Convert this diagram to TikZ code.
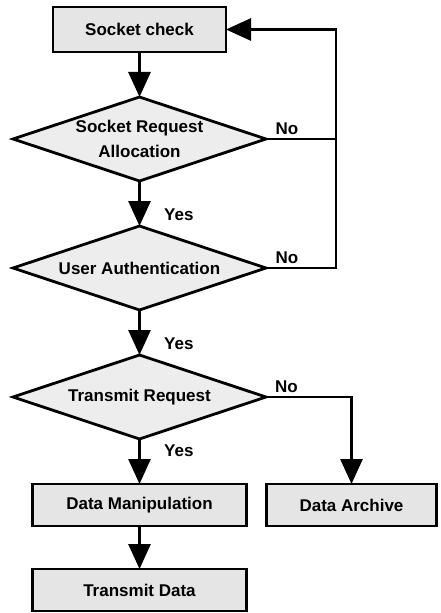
\documentclass[tikz,border=0pt]{standalone}
\usepackage{fontspec}
\setmainfont{Liberation Sans}
\usetikzlibrary{shapes.geometric,positioning,arrows.meta}

\begin{document}
\begin{tikzpicture}[-{Triangle[width=22pt,length=25pt]},line width=2.8pt,auto,node distance=45pt,
		font=\fontsize{17}{25}\selectfont\bfseries,
		block/.style={rectangle,draw,fill=black!10,minimum height=42pt,inner sep=0pt,outer sep=0pt},
		decision/.style={diamond,draw,fill=black!7,aspect=3,inner sep=0pt,outer sep=0pt,minimum width=253pt,minimum height=84pt,align=center},
		yes/.style={pos=.75,xshift=20pt}]
		\useasboundingbox (0,0) rectangle (440pt,-613pt);
		\node[block,minimum width=173pt,minimum height=45pt] (check) at (139.5pt,-29.5pt) {Socket check};
		\node[decision] (alloc) [below=of check] {Socket Request\\Allocation};
		\node[decision] (auth) [below=of alloc] {User Authentication};
		\node[decision] (trans) [below=of auth] {Transmit Request};
		\node[block,minimum width=214pt] (manip) [below=of trans] {Data Manipulation};
		\node[block,minimum width=170pt] (archive) [right=20pt of manip] {Data Archive};
		\node[block,minimum width=214pt] (send) [below=43pt of manip] {Transmit Data};
		\coordinate (loop) at ([xshift=70pt]alloc.east);
	
		\draw 	(check) edge (alloc)
				(alloc) edge node[yes]{Yes} (auth)
				(auth) edge node[yes]{Yes} (trans)
				(trans) edge node[yes,pos=.27]{Yes} (manip)
				(manip) edge (send);
		\draw[-] (alloc.east) -- node[above,pos=.3]{No} (loop);
		\draw 	(auth.east) -| node[above,pos=.15]{No} (loop) |- (check.east);
		\draw 	(trans.east) -| node[above,pos=.12]{No} (archive.north);
		\end{tikzpicture}
\end{document}
